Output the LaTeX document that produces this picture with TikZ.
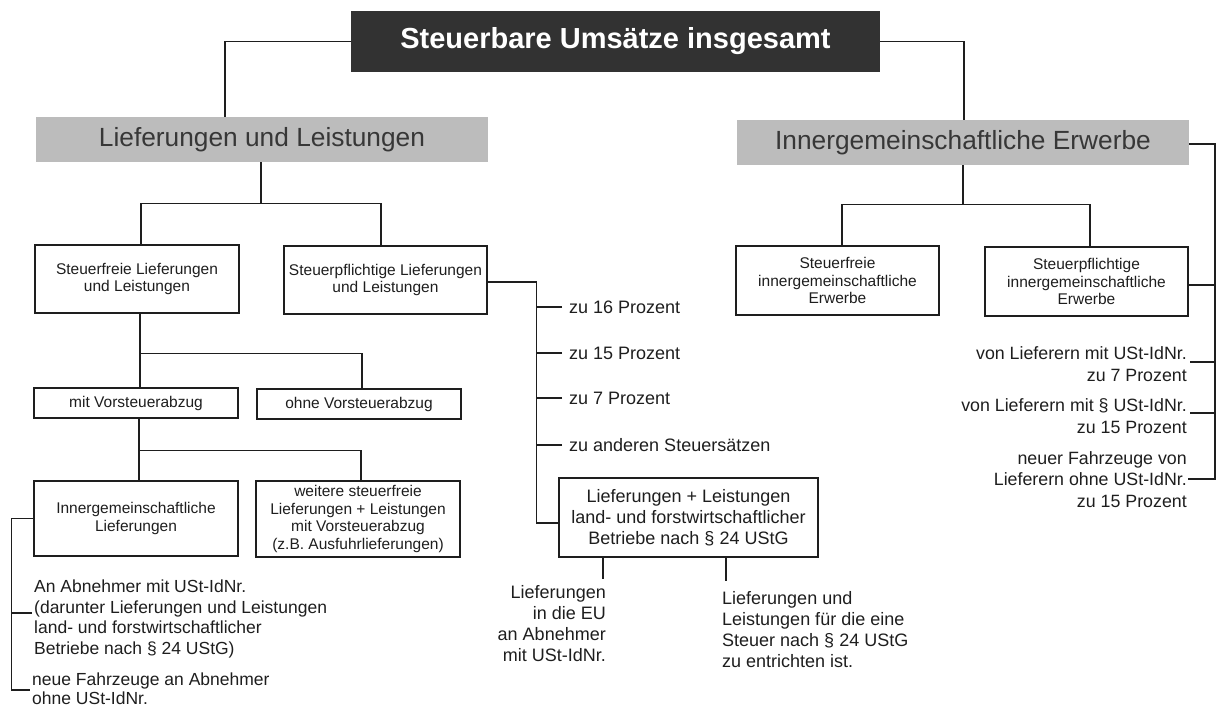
\documentclass[tikz,border=0pt]{standalone}
\usepackage{fontspec}
\setmainfont{Liberation Sans}
\definecolor{titlefill}{RGB}{50,50,50}
\definecolor{grayfill}{RGB}{188,188,188}
\definecolor{graytext}{RGB}{55,55,55}
\definecolor{ink}{RGB}{30,30,30}
\begin{document}
\begin{tikzpicture}[x=1pt,y=-1pt,
  titlebox/.style={fill=titlefill, text=white, font=\fontsize{29}{34}\bfseries\selectfont,
    minimum width=529pt, minimum height=61pt, inner sep=0pt},
  headbox/.style={fill=grayfill, text=graytext, font=\fontsize{26.3}{30}\selectfont,
    minimum width=452pt, minimum height=45pt, inner sep=0pt},
  box/.style={draw=ink, line width=1.35pt, fill=white, text=ink, align=center,
    font=\fontsize{15.5}{17.8}\selectfont, inner sep=0pt, minimum width=204pt},
  lbl/.style={text=ink, font=\fontsize{18}{21}\selectfont, inner sep=0pt},
  conn/.style={draw=ink, line width=1.35pt}]
\useasboundingbox (0,0) rectangle (1216,709);
% nodes
\node[titlebox] (title) at (615.5,41.5) {Steuerbare Umsätze insgesamt};
\node[headbox] (g1) at (262,139.5) {Lieferungen und Leistungen};
\node[headbox] (g2) at (963,142.5) {Innergemeinschaftliche Erwerbe};
\node[box, minimum height=68pt] (b1) at (137,279) {Steuerfreie Lieferungen\\und Leistungen};
\node[box, minimum width=203pt, minimum height=68pt] (b2) at (385.5,280) {Steuerpflichtige Lieferungen\\und Leistungen};
\node[box, minimum width=203pt, minimum height=69pt] (b3) at (837.5,280.5) {Steuerfreie\\innergemeinschaftliche\\Erwerbe};
\node[box, minimum width=203pt, minimum height=69pt] (b4) at (1086.5,281.5) {Steuerpflichtige\\innergemeinschaftliche\\Erwerbe};
\node[box, minimum height=30pt] (b5) at (136,403) {mit Vorsteuerabzug};
\node[box, minimum height=30pt] (b6) at (359,404) {ohne Vorsteuerabzug};
\node[box, minimum height=75pt] (b7) at (136,518.5) {Innergemeinschaftliche\\Lieferungen};
\node[box, minimum height=76pt] (b8) at (358,519) {weitere steuerfreie\\Lieferungen + Leistungen\\mit Vorsteuerabzug\\(z.B. Ausfuhrlieferungen)};
\node[box, font=\fontsize{18}{20.8}\selectfont, minimum width=259pt, minimum height=79pt] (b9) at (688.5,517.5) {Lieferungen + Leistungen\\land- und forstwirtschaftlicher\\Betriebe nach § 24 UStG};
% labels
\node[lbl, anchor=west] (p16) at (569,307) {zu 16 Prozent};
\node[lbl, anchor=west] (p15) at (569,353) {zu 15 Prozent};
\node[lbl, anchor=west] (p7) at (569,398) {zu 7 Prozent};
\node[lbl, anchor=west] (pa) at (569,445) {zu anderen Steuersätzen};
\node[lbl, anchor=west, align=left, font=\fontsize{17.5}{20.7}\selectfont] (abn) at (34,619) {An Abnehmer mit USt-IdNr.\\(darunter Lieferungen und Leistungen\\land- und forstwirtschaftlicher\\Betriebe nach § 24 UStG)};
\node[lbl, anchor=west, align=left, font=\fontsize{17.5}{19}\selectfont] (fz) at (32,689) {neue Fahrzeuge an Abnehmer\\ohne USt-IdNr.};
\node[lbl, anchor=east, align=right, font=\fontsize{18}{21}\selectfont] (eu) at (606,623.5) {Lieferungen\\in die EU\\an Abnehmer\\mit USt-IdNr.};
\node[lbl, anchor=west, align=left, font=\fontsize{18}{21}\selectfont] (st) at (722,630) {Lieferungen und\\Leistungen für die eine\\Steuer nach § 24 UStG\\zu entrichten ist.};
\node[lbl, anchor=east, align=right, font=\fontsize{17.8}{21.5}\selectfont] (r1) at (1187,364) {von Lieferern mit USt-IdNr.\\zu 7 Prozent};
\node[lbl, anchor=east, align=right, font=\fontsize{17.8}{21.5}\selectfont] (r2) at (1187,416) {von Lieferern mit § USt-IdNr.\\zu 15 Prozent};
\node[lbl, anchor=east, align=right, font=\fontsize{17.8}{21.5}\selectfont] (r3) at (1187,479.5) {neuer Fahrzeuge von\\Lieferern ohne USt-IdNr.\\zu 15 Prozent};
% connectors
\draw[conn] (title.west) -| ([xshift=-37pt]g1.north);
\draw[conn] (title.east) -| ([xshift=1pt]g2.north);
\draw[conn] ([xshift=-1pt]g1.south) -- ++(0,42);
\draw[conn] ([xshift=4pt]b1.north) -- ++(0,-41) -| ([xshift=-4.5pt]b2.north);
\draw[conn] (g2.south) -- ++(0,40);
\draw[conn] ([xshift=4.5pt]b3.north) -- ++(0,-41) -| ([xshift=3.5pt]b4.north);
\draw[conn] ([xshift=3pt]b1.south) -- ([xshift=4pt]b5.north);
\draw[conn] ([xshift=3pt]b1.south) ++(0,40) -| ([xshift=3pt]b6.north);
\draw[conn] ([xshift=3pt]b5.south) -- ([xshift=3pt]b7.north);
\draw[conn] ([xshift=3pt]b5.south) ++(0,32) -| ([xshift=3pt]b8.north);
\draw[conn] (b7.west) -- ++(-22,0) |- ([xshift=-2pt,yshift=-1pt]fz.west);
\draw[conn] ([xshift=-2pt,yshift=6pt]abn.west) -- ++(-20,0);
\draw[conn] ([yshift=-2pt]b2.east) -| ([xshift=-22pt,yshift=-5.5pt]b9.west) -- ([yshift=-5.5pt]b9.west);
\draw[conn] ([xshift=-7pt]p16.west) -- ++(-25,0);
\draw[conn] ([xshift=-7pt]p15.west) -- ++(-25,0);
\draw[conn] ([xshift=-7pt]p7.west) -- ++(-25,0);
\draw[conn] ([xshift=-7pt]pa.west) -- ++(-25,0);
\draw[conn] ([xshift=-85.5pt]b9.south) -- ++(0,21);
\draw[conn] ([xshift=37.5pt]b9.south) -- ++(0,23);
\draw[conn] ([yshift=-1.5pt]g2.east) -| ([xshift=28pt,yshift=0.5pt]r3.east) -- ([xshift=1pt,yshift=0.5pt]r3.east);
\draw[conn] ([yshift=-3.5pt]b4.east) -- ++(27,0);
\draw[conn] ([xshift=3pt,yshift=2pt]r1.east) -- ++(25,0);
\draw[conn] ([xshift=3pt,yshift=3pt]r2.east) -- ++(25,0);
\end{tikzpicture}
\end{document}
